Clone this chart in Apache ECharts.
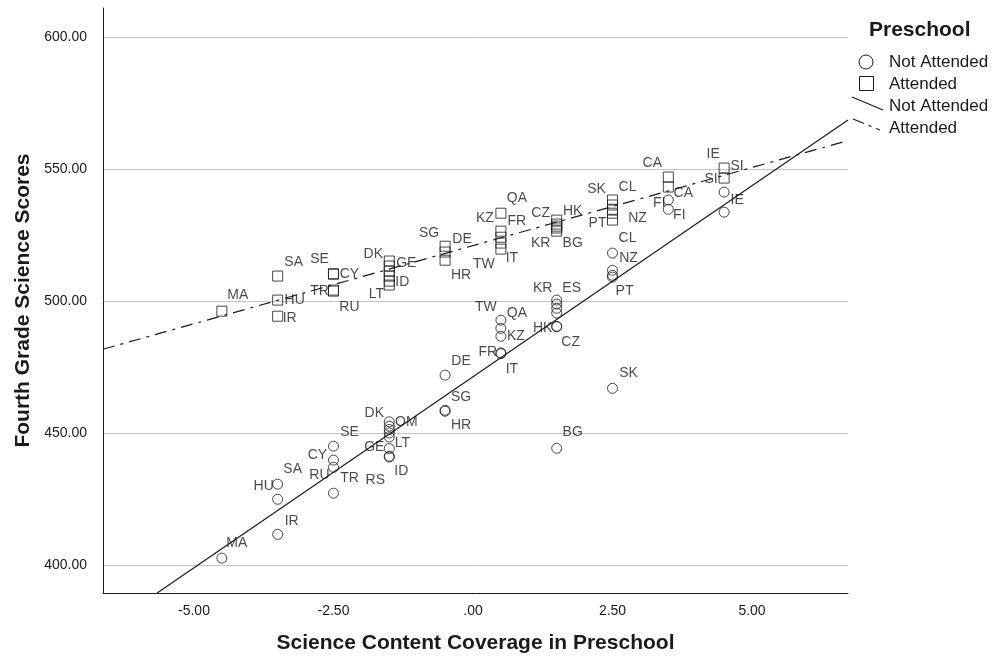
<!DOCTYPE html>
<html lang="en">
<head>
<meta charset="UTF-8">
<title>Fourth Grade Science Scores by Preschool Science Coverage</title>
<script src="https://cdn.jsdelivr.net/npm/echarts@6/dist/echarts.min.js"></script>
<style>
  * { margin: 0; padding: 0; }
  body { background: #fff; }
  #chart { width: 1004px; height: 661px; }
</style>
</head>
<body>
<div id="chart"></div>
<script>
// --- data ---
// Preschool = Attended (squares)
const attendedCountries = ['MA','SA','HU','IR','SE','CY','TR','RU','DK','GE','','','ID','LT','SG','DE','HR',
  'QA','KZ','FR','TW','IT','CZ','HK','','KR','BG','SK','CL','','NZ','PT','CA','FI','IE','SI'];
const attendedX = [-4.5,-3.5,-3.5,-3.5,-2.5,-2.5,-2.5,-2.5,-1.5,-1.5,-1.5,-1.5,-1.5,-1.5,-0.5,-0.5,-0.5,
  0.5,0.5,0.5,0.5,0.5,1.5,1.5,1.5,1.5,1.5,2.5,2.5,2.5,2.5,2.5,3.5,3.5,4.5,4.5];
const attendedY = [496.2,509.5,500.4,494.3,510.4,510.2,504.2,503.8,515.2,513.3,511.4,509.5,507.6,506.1,
  520.8,518.6,515.5,533.3,526.5,524.2,522.0,519.7,530.7,529.2,528.4,527.7,526.5,538.3,536.4,534.8,533.3,530.7,
  547.0,543.2,550.4,546.6];

// Preschool = Not Attended (circles)
const notAttendedCountries = ['MA','SA','HU','IR','SE','CY','RU','TR','DK','OM','','','GE','LT','ID','RS',
  'DE','SG','HR','TW','QA','KZ','FR','IT','KR','ES','','','HK','CZ','BG','CL','NZ','PT','','SK','CA','FI','SI','IE'];
const notAttendedX = [-4.5,-3.5,-3.5,-3.5,-2.5,-2.5,-2.5,-2.5,-1.5,-1.5,-1.5,-1.5,-1.5,-1.5,-1.5,-1.5,
  -0.5,-0.5,-0.5,0.5,0.5,0.5,0.5,0.5,1.5,1.5,1.5,1.5,1.5,1.5,1.5,2.5,2.5,2.5,2.5,2.5,3.5,3.5,4.5,4.5];
const notAttendedY = [402.7,430.7,425.0,411.7,445.1,439.8,437.1,427.3,454.3,452.7,451.4,450.1,448.6,444.2,441.3,441.0,
  472.0,458.7,458.3,492.8,489.7,486.7,480.4,480.1,500.4,498.9,497.3,495.5,490.5,490.3,444.3,518.2,511.7,509.1,509.8,467.0,
  538.3,534.8,541.3,533.7];

// fit lines, end points
const notAttendedFit = [[-5.66, 389.5], [6.72, 568.6]];
const attendedFit = [[-6.63, 481.8], [6.72, 560.8]];

const xTicks = [-5, -2.5, 0, 2.5, 5];
const yTicks = [400, 450, 500, 550, 600];

// --- label placement (pixel offsets from the marker centre) ---
const attendedLabelOffsets = [[16,-16],[16,-14],[17,0],[12,2],[-14,-15],[16,0],[-14,1],[16,16],[-16,-7],[17,-3],null,null,
  [13,1],[-13,9],[-16,-13],[17,-13],[16,15],[16,-15],[-16,-13],[16,-16],[-17,21],[11,9],[-16,-7],[16,-13],null,
  [-16,15],[16,12],[-16,-11],[15,-18],null,[25,5],[-15,3],[-16,-14],[-9,16],[-11,-14],[13,-12]];
const notAttendedLabelOffsets = [[15,-15],[15,-15],[-14,-13],[14,-13],[16,-14],[-16,-5],[-14,8],[16,-15],[-15,-9],[17,-4],
  null,null,[-15,10],[13,-5],[12,15],[-14,23],[16,-14],[16,-13],[16,14],[-15,-13],[16,-15],[15,0],[-13,-1],[11,15],
  [-14,-12],[15,-16],null,null,[-14,2],[14,15],[16,-16],[15,-15],[16,-12],[12,14],null,[16,-15],[15,-7],[11,6],[-13,-13],[13,-12]];

const FONT = "'Liberation Sans', Arial, sans-serif";
const INK = '#1a1a1a';

function buildPoints(names, xs, ys, offsets) {
  return names.map((n, i) => ({
    name: n,
    value: [xs[i], ys[i]],
    label: offsets[i] ? { show: true, offset: offsets[i] } : { show: false }
  }));
}

const chart = echarts.init(document.getElementById('chart'), null, { renderer: 'canvas' });

const scatterLabel = {
  position: 'inside',
  formatter: p => p.name,
  color: INK,
  fontSize: 14,
  fontFamily: FONT,
  align: 'center',
  verticalAlign: 'middle'
};

const legendX = 889;
const legendFont = '17px ' + FONT;

chart.setOption({
  backgroundColor: '#fff',
  animation: false,
  grid: { left: 103, right: 156, top: 8, bottom: 68 },
  xAxis: {
    type: 'value',
    min: -6.63,
    max: 6.72,
    name: 'Science Content Coverage in Preschool',
    nameLocation: 'middle',
    nameGap: 40,
    nameTextStyle: { fontFamily: FONT, fontSize: 21, fontWeight: 'bold', color: INK },
    axisLine: { show: true, onZero: false, lineStyle: { color: INK, width: 1 } },
    axisTick: { show: false, customValues: xTicks },
    axisLabel: {
      customValues: xTicks,
      margin: 11,
      fontFamily: FONT, fontSize: 14, color: INK,
      formatter: v => (v === 0 ? '.00' : v.toFixed(2))
    },
    splitLine: { show: false }
  },
  yAxis: {
    type: 'value',
    min: 389.5,
    max: 611,
    name: 'Fourth Grade Science Scores',
    nameLocation: 'middle',
    nameGap: 64,
    nameTextStyle: { fontFamily: FONT, fontSize: 21, fontWeight: 'bold', color: INK },
    axisLine: { show: true, onZero: false, lineStyle: { color: INK, width: 1 } },
    axisTick: { show: false, customValues: yTicks },
    axisLabel: {
      customValues: yTicks,
      margin: 16,
      fontFamily: FONT, fontSize: 14, color: INK,
      formatter: v => v.toFixed(2)
    },
    splitLine: { show: true, lineStyle: { color: '#c4c4c4', width: 1 } }
  },
  series: [
    {
      name: 'Not Attended fit',
      type: 'line',
      data: notAttendedFit,
      showSymbol: false,
      clip: true,
      lineStyle: { color: INK, width: 1.2 },
      z: 2
    },
    {
      name: 'Attended fit',
      type: 'line',
      data: attendedFit,
      showSymbol: false,
      clip: true,
      lineStyle: { color: INK, width: 1.2, type: [12, 6, 3, 6] },
      z: 2
    },
    {
      name: 'Not Attended',
      type: 'scatter',
      symbol: 'circle',
      symbolSize: 10,
      itemStyle: { color: 'rgba(255,255,255,0)', borderColor: INK, borderWidth: 1 },
      label: scatterLabel,
      data: buildPoints(notAttendedCountries, notAttendedX, notAttendedY, notAttendedLabelOffsets),
      z: 3
    },
    {
      name: 'Attended',
      type: 'scatter',
      symbol: 'rect',
      symbolSize: 10,
      itemStyle: { color: 'rgba(255,255,255,0)', borderColor: INK, borderWidth: 1 },
      label: scatterLabel,
      data: buildPoints(attendedCountries, attendedX, attendedY, attendedLabelOffsets),
      z: 3
    }
  ],
  graphic: [
    { type: 'text', x: 869, y: 30, style: { text: 'Preschool', font: 'bold 21px ' + FONT, fill: INK, verticalAlign: 'middle' } },
    { type: 'circle', shape: { cx: 866, cy: 62, r: 7 }, style: { fill: 'none', stroke: INK, lineWidth: 1 } },
    { type: 'text', x: legendX, y: 62, style: { text: 'Not Attended', font: legendFont, fill: INK, verticalAlign: 'middle' } },
    { type: 'rect', shape: { x: 859.5, y: 76.5, width: 14, height: 14 }, style: { fill: 'none', stroke: INK, lineWidth: 1 } },
    { type: 'text', x: legendX, y: 84, style: { text: 'Attended', font: legendFont, fill: INK, verticalAlign: 'middle' } },
    { type: 'line', shape: { x1: 852, y1: 97, x2: 883, y2: 110 }, style: { stroke: INK, lineWidth: 1.2 } },
    { type: 'text', x: legendX, y: 106, style: { text: 'Not Attended', font: legendFont, fill: INK, verticalAlign: 'middle' } },
    { type: 'line', shape: { x1: 853, y1: 119, x2: 880, y2: 130 }, style: { stroke: INK, lineWidth: 1.2, lineDash: [12, 5, 3, 5] } },
    { type: 'text', x: legendX, y: 128, style: { text: 'Attended', font: legendFont, fill: INK, verticalAlign: 'middle' } }
  ]
});
</script>
</body>
</html>
